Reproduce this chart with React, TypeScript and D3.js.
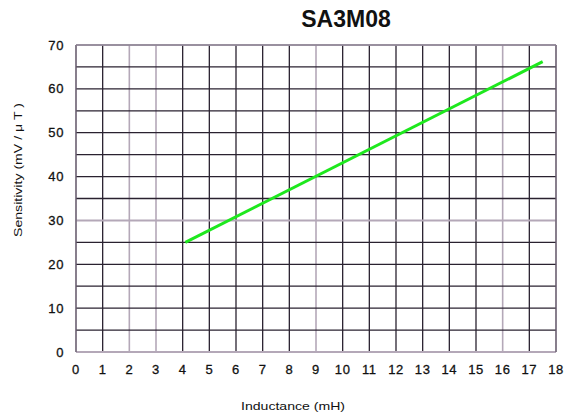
import React from "react";
import * as d3 from "d3";

const title = "SA3M08";
const xLabel = "Inductance (mH)";
const yLabel = "Sensitivity (mV / \u03bc T )";
const xTicks = d3.range(0, 19, 1);
const yTicks = [0, 10, 20, 30, 40, 50, 60, 70];
const yGrid = d3.range(0, 71, 5);
const lightX = [2, 3, 9, 16];
const lightY = [0, 30];
const inductance = [4.1, 17.5];
const sensitivity = [25, 66.2];

const W = 565;
const H = 420;
const M = { left: 76, right: 9, top: 45, bottom: 68 };

export default function App() {
  const x = d3.scaleLinear().domain([0, 18]).range([M.left, W - M.right]);
  const y = d3.scaleLinear().domain([0, 70]).range([H - M.bottom, M.top]);
  const pts: [number, number][] = inductance.map((v, i) => [v, sensitivity[i]]);
  const line = d3
    .line<[number, number]>()
    .x((d) => x(d[0]))
    .y((d) => y(d[1]));
  const dark = "#2a2230";
  const light = "#b4a8b8";
  const font = "Arial, 'Liberation Sans', sans-serif";
  return (
    <div style={{ position: "absolute", left: 0, top: 0 }}>
      <svg width={W} height={H} style={{ display: "block", background: "#fff" }}>
        <text x={346} y={27} textAnchor="middle" fontFamily={font} fontWeight="bold" fontSize={23} fill="#111">
          {title}
        </text>
        {xTicks.map((t) => (
          <line
            key={"vx" + t}
            x1={x(t)}
            x2={x(t)}
            y1={y(0)}
            y2={y(70)}
            stroke={lightX.includes(t) || t === 0 || t === 18 ? light : dark}
            strokeWidth={lightX.includes(t) ? 1.6 : 1.3}
          />
        ))}
        {yGrid.map((t) => (
          <line
            key={"hy" + t}
            x1={x(0)}
            x2={x(18)}
            y1={y(t)}
            y2={y(t)}
            stroke={lightY.includes(t) || t === 70 ? light : dark}
            strokeWidth={lightY.includes(t) ? 2 : 1.3}
          />
        ))}
        <line x1={x(0)} x2={x(0)} y1={y(0)} y2={y(70)} stroke="#6a6070" strokeWidth={1.4} />
        <line x1={x(18)} x2={x(18)} y1={y(0)} y2={y(70)} stroke="#6a6070" strokeWidth={1.4} />
        <line x1={x(0)} x2={x(18)} y1={y(70)} y2={y(70)} stroke="#8a8090" strokeWidth={1.4} />
        <path d={line(pts) || ""} fill="none" stroke="#1ee81e" strokeWidth={3} />
        {yTicks.map((t) => (
          <text
            key={"yl" + t}
            x={64}
            y={y(t) + 4.5}
            textAnchor="end"
            fontFamily={font}
            fontSize={13}
            letterSpacing={0.6}
            stroke="#111"
            strokeWidth={0.3}
            fill="#111"
          >
            {t}
          </text>
        ))}
        {xTicks.map((t) => (
          <text
            key={"xl" + t}
            x={x(t)}
            y={374}
            textAnchor="middle"
            fontFamily={font}
            fontSize={13}
            letterSpacing={0.6}
            stroke="#111"
            strokeWidth={0.3}
            fill="#111"
          >
            {t}
          </text>
        ))}
        <text
          x={293}
          y={410}
          textAnchor="middle"
          fontFamily={font}
          fontSize={11}
          textLength={104}
          lengthAdjust="spacingAndGlyphs"
          fill="#111"
        >
          {xLabel}
        </text>
        <text
          transform={`translate(22,170) rotate(-90)`}
          textAnchor="middle"
          fontFamily={font}
          fontSize={11}
          textLength={134}
          lengthAdjust="spacingAndGlyphs"
          fill="#111"
        >
          {yLabel}
        </text>
      </svg>
    </div>
  );
}
